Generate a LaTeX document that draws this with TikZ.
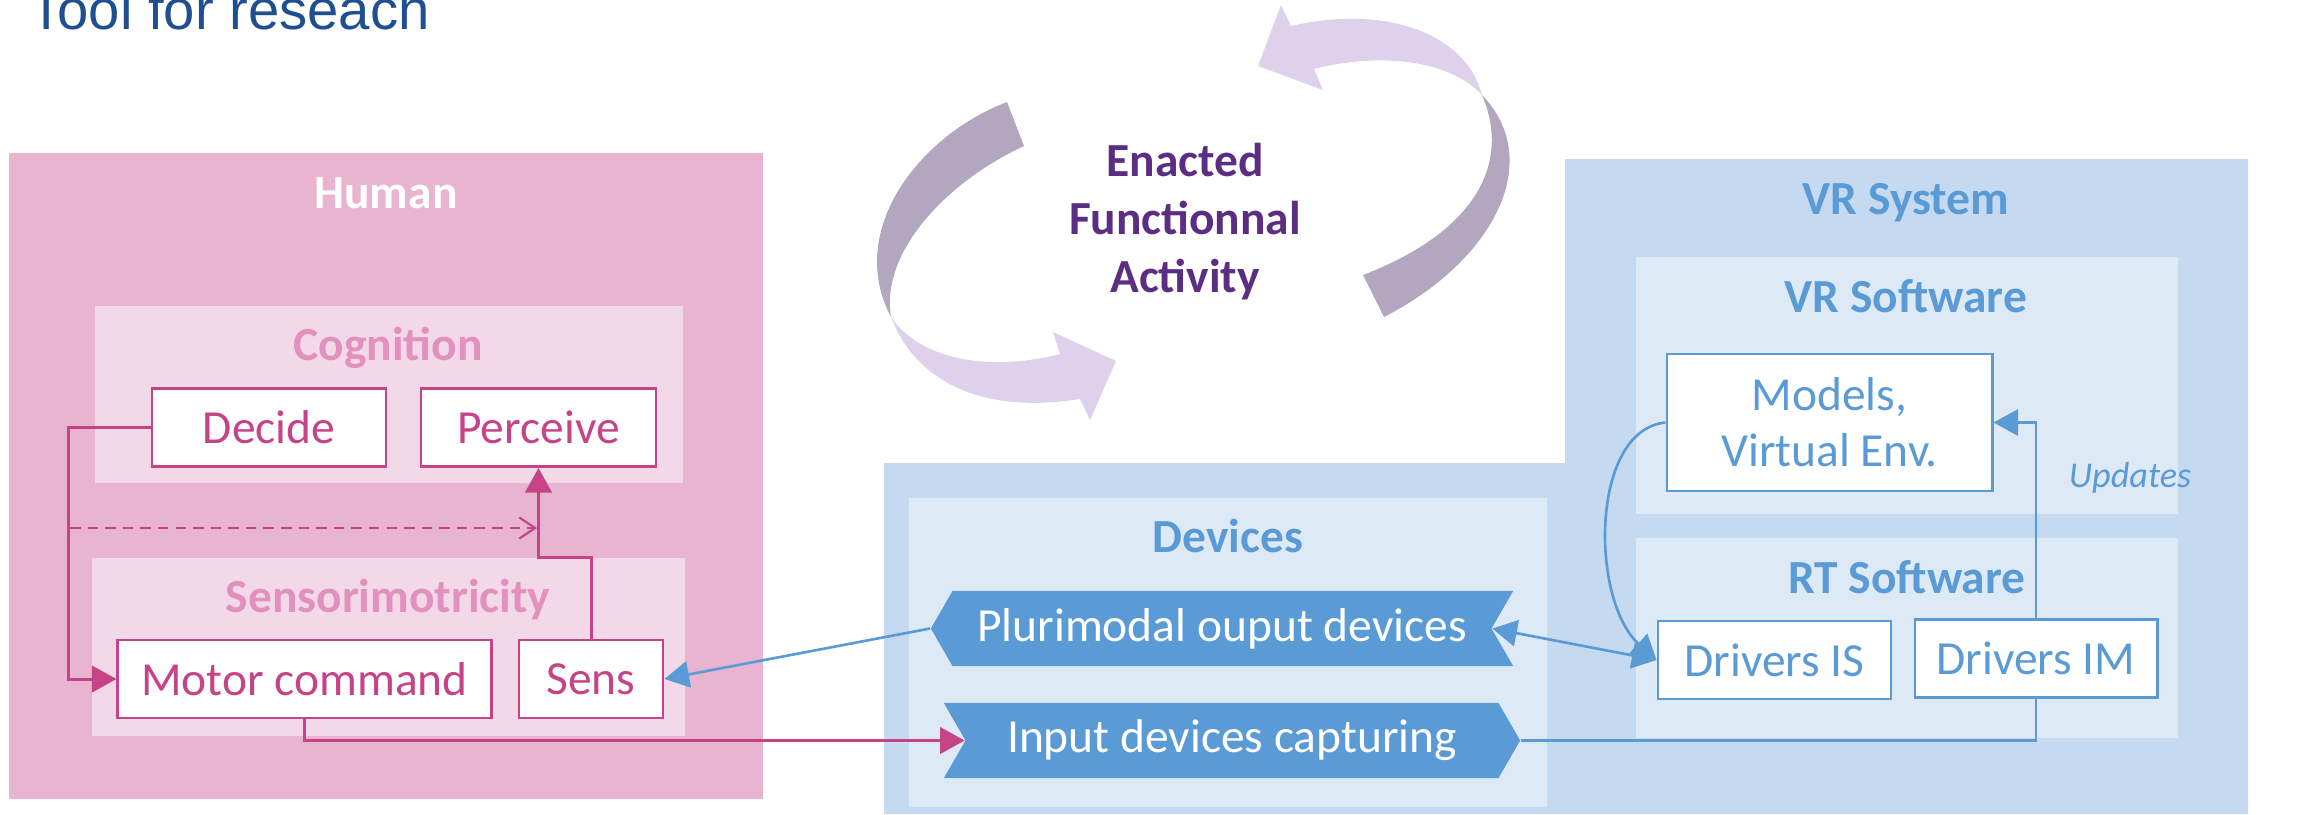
\documentclass[tikz,border=0pt]{standalone}
\usepackage{fontspec}
\setmainfont{Carlito}
\newfontfamily\titlefont{Liberation Sans}
\usepackage{xcolor}
\usetikzlibrary{arrows.meta,positioning,shapes.symbols}

\definecolor{humanbg}{RGB}{233,180,207}
\definecolor{humanin}{RGB}{243,216,231}
\definecolor{hpink}{RGB}{199,67,136}
\definecolor{hlabel}{RGB}{226,145,190}
\definecolor{vrbg}{RGB}{197,217,241}
\definecolor{vrin}{RGB}{222,233,246}
\definecolor{vrblue}{RGB}{91,155,213}
\definecolor{efa}{RGB}{92,46,131}
\definecolor{cycdark}{RGB}{179,167,191}
\definecolor{cyclight}{RGB}{223,209,236}
\definecolor{titleblue}{RGB}{31,78,145}

\begin{document}
\begin{tikzpicture}[x=0.01cm, y=-0.01cm,
  every node/.style={font=\fontsize{13.5}{16}\selectfont},
  group/.style={font=\fontsize{13.5}{16}\selectfont\bfseries, anchor=base},
  hbox/.style={draw=hpink, line width=0.8pt, fill=white, text=hpink,
    inner sep=0pt, minimum height=0.78cm},
  vbox/.style={draw=vrblue, line width=0.8pt, fill=white, text=vrblue,
    inner sep=0pt, minimum height=0.78cm},
  dev/.style={signal, fill=vrblue, text=white, inner sep=0pt,
    minimum height=0.75cm, signal pointer angle=120},
  plink/.style={draw=hpink, line width=0.85pt},
  blink/.style={draw=vrblue, line width=0.75pt},
  arrow/.style={-{Triangle[length=7pt,width=7.5pt]}},
]
\useasboundingbox (0,0) rectangle (2318,814);

\node[anchor=base west, font=\titlefont\fontsize{16}{19}\selectfont, text=titleblue]
  (title) at (17,29) {Tool for reseach};

\fill[humanbg] (9,153) rectangle (763,799);
\fill[humanin] (95,306) rectangle (683,483);
\fill[humanin] (92,558) rectangle (685,736);
\node[group, text=white] (human) at (386,208) {Human};
\node[group, text=hlabel] (cognition) at (388,360) {Cognition};
\node[group, text=hlabel] (sensori) at (388,612) {Sensorimotricity};

\fill[vrbg] (884,463) -- (1565,463) -- (1565,159) -- (2248,159) -- (2248,814) -- (884,814) -- cycle;
\fill[vrin] (909,498) rectangle (1547,807);
\fill[vrin] (1636,257) rectangle (2178,514);
\fill[vrin] (1636,538) rectangle (2178,738);
\node[group, text=vrblue] (devices) at (1228,552) {Devices};
\node[group, text=vrblue] (vrsys) at (1906,214) {VR System};
\node[group, text=vrblue] (vrsoft) at (1906,312) {VR Software};
\node[group, text=vrblue] (rtsoft) at (1907,593) {RT Software};

\fill[cycdark] (1007,102) .. controls (920,135) and (845,230) .. (891,317)
  .. controls (880,250) and (950,180) .. (1024,146) -- cycle;
\fill[cyclight] (891,317) .. controls (915,380) and (980,415) .. (1080,399)
  -- (1090,420) -- (1116,361) -- (1053,332) -- (1060,354)
  .. controls (990,372) and (920,360) .. (891,317) -- cycle;
\fill[cycdark] (1384,317) .. controls (1495,260) and (1545,160) .. (1482,95)
  .. controls (1510,160) and (1480,230) .. (1363,275) -- cycle;
\fill[cyclight] (1482,95) .. controls (1465,30) and (1380,5) .. (1291,26)
  -- (1281,5) -- (1258,66) -- (1323,90) -- (1314,69)
  .. controls (1380,52) and (1450,60) .. (1482,95) -- cycle;
\node[align=center, text=efa, font=\fontsize{13.5}{16.5}\selectfont\bfseries]
  (efa) at (1185,222) {Enacted\\Functionnal\\Activity};

\node[hbox, minimum width=2.34cm] (decide) at (269,427.5) {Decide};
\node[hbox, minimum width=2.35cm] (perceive) at (538.5,427.5) {Perceive};
\node[hbox, minimum width=3.73cm] (motor) at (304.5,679) {Motor command};
\node[hbox, minimum width=1.44cm] (sens) at (591,679) {Sens};

\node[dev, signal to=west, signal from=east, minimum width=5.82cm]
  (output) at (1222,628.5) {Plurimodal ouput devices};
\node[dev, signal to=east, signal from=west, minimum width=5.76cm]
  (input) at (1232,740.5) {Input devices capturing};

\node[vbox, minimum width=3.25cm, minimum height=1.37cm, align=center]
  (models) at (1829.5,422.5) {Models,\\Virtual Env.};
\node[vbox, minimum width=2.33cm] (drvis) at (1774.5,660) {Drivers IS};
\node[vbox, minimum width=2.42cm] (drvim) at (2036,658.5) {Drivers IM};
\node[text=vrblue, font=\fontsize{10.3}{12}\selectfont\itshape, anchor=base]
  (updates) at (2130,487) {Updates};

\coordinate (dstart) at (70,528);
\coordinate (dend) at (537,528);

\draw[plink, arrow] (decide.west) -- ++(-82,0) |- (motor.west);
\draw[plink, dash pattern=on 3pt off 2pt, line width=0.6pt,
  -{Straight Barb[length=4.5pt,width=6pt]}] (dstart) -- (dend);
\draw[plink, arrow] (sens.north) -- ++(0,-81) -| (perceive.south);
\draw[plink, arrow] (motor.south) |- (input.west);

\draw[blink, arrow] (output.west) -- (sens.east);
\draw[blink, {Triangle[length=7pt,width=7.5pt]}-{Triangle[length=7pt,width=7.5pt]}]
  (output.east) -- (drvis.west);
\draw[blink, arrow] (models.west) .. controls (1590,430) and (1590,600) .. (drvis.west);
\draw[blink] (input.east) -| (drvim.south);
\draw[blink, arrow] (drvim.north) |- (models.east);
\end{tikzpicture}
\end{document}
